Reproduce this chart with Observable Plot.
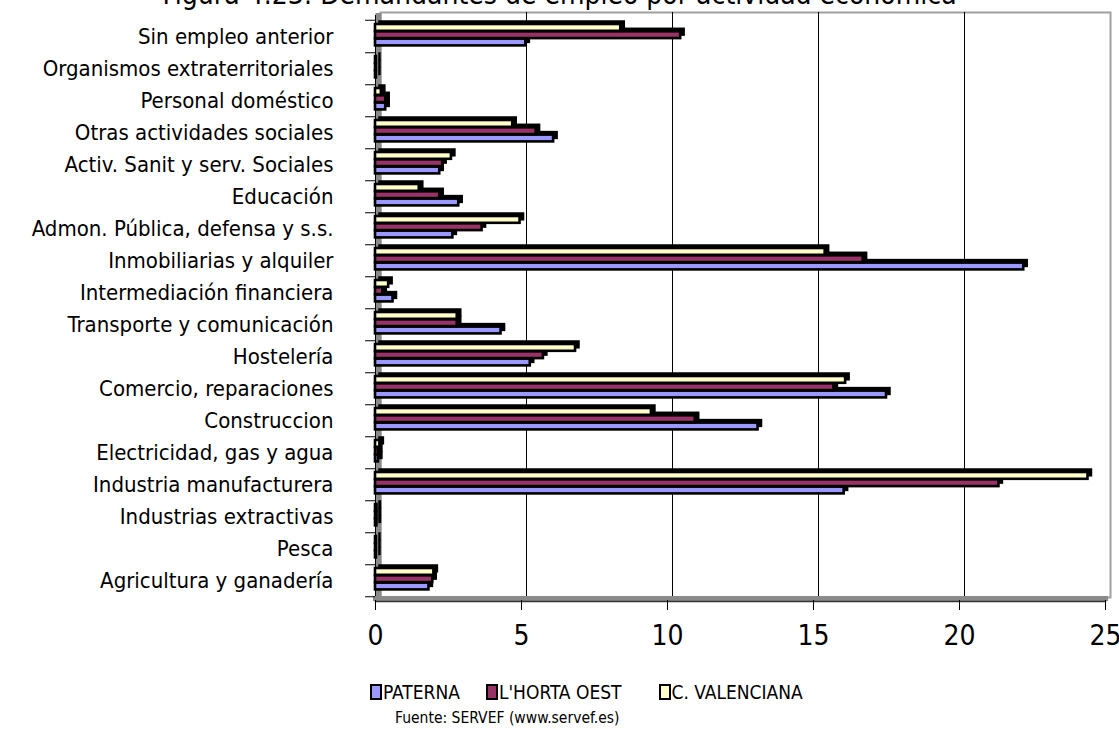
<!DOCTYPE html>
<html>
<head>
<meta charset="utf-8">
<script src="https://cdn.jsdelivr.net/npm/d3@7"></script>
<script src="https://cdn.jsdelivr.net/npm/@observablehq/plot@0.6"></script>
<style>
  html, body { margin: 0; padding: 0; background: #fff; overflow: hidden; }
  body { font-family: "Liberation Sans Narrow", "DejaVu Sans Condensed", "Roboto", sans-serif; color: #000; width: 1119px; height: 729px; }
  #title { height: 10px; overflow: visible; position: relative; }
  #title div { position: absolute; left: 0; right: 0; top: -20px; font-size: 28px; line-height: 30px; text-align: center; white-space: nowrap; }
  #chart svg { display: block; }
  #legend { display: flex; align-items: center; padding-left: 370px; margin-top: 18px; font-size: 19px; line-height: 24px; }
  #legend .item { display: flex; align-items: center; }
  #legend .sw { width: 8px; height: 12px; border: 2px solid #000; margin-right: 1px; }
  #caption { padding-left: 395px; font-size: 15.5px; line-height: 20px; margin-top: 4px; }
</style>
</head>
<body>
<div id="title"><div>Figura 4.23: Demandantes de empleo por actividad económica</div></div>
<div id="chart"></div>
<div id="legend"></div>
<div id="caption">Fuente: SERVEF (www.servef.es)</div>
<script>
// ---- data (top to bottom as displayed) ----
const categories = [
  "Sin empleo anterior",
  "Organismos extraterritoriales",
  "Personal doméstico",
  "Otras actividades sociales",
  "Activ. Sanit y serv. Sociales",
  "Educación",
  "Admon. Pública, defensa y s.s.",
  "Inmobiliarias y alquiler",
  "Intermediación financiera",
  "Transporte y comunicación",
  "Hostelería",
  "Comercio, reparaciones",
  "Construccion",
  "Electricidad, gas y agua",
  "Industria manufacturera",
  "Industrias extractivas",
  "Pesca",
  "Agricultura y ganadería"
];
const seriesNames = ["PATERNA", "L'HORTA OEST", "C. VALENCIANA"];
const seriesColors = ["#9999ff", "#993366", "#ffffcc"];
const paterna     = [5.15, 0.03, 0.35, 6.1, 2.2, 2.85, 2.65, 22.2, 0.6, 4.3, 5.3, 17.5, 13.1, 0.1, 16.05, 0.05, 0.03, 1.83];
const hortaOest   = [10.45, 0.03, 0.35, 5.5, 2.3, 2.2, 3.65, 16.7, 0.25, 2.8, 5.75, 15.7, 10.95, 0.1, 21.35, 0.05, 0.03, 1.96];
const cValenciana = [8.4, 0.03, 0.2, 4.7, 2.6, 1.5, 4.95, 15.4, 0.45, 2.8, 6.85, 16.1, 9.45, 0.15, 24.4, 0.05, 0.03, 2.0];
const xTicks = [0, 5, 10, 15, 20, 25];

const seriesValues = [paterna, hortaOest, cValenciana];
// slot within each category band: C. VALENCIANA on top, then L'HORTA OEST, then PATERNA
const slotOf = [2, 1, 0];

const W = 1119, H = 652, mt = 5, mb = 62, ml = 375, mr = 14;
const bw = (H - mt - mb) / categories.length;
const top0 = 4, pitch = 7.3;
const ins = s => ({insetTop: top0 + pitch * s, insetBottom: bw - (top0 + pitch * (s + 1))});

const tables = seriesValues.map((vals, i) => categories.map((c, j) => ({cat: c, value: vals[j], series: seriesNames[i]})));

const shadowMarks = tables.map((t, i) => Plot.barX(t, {
  y: "cat", x: "value", fill: "#000", stroke: "#000", strokeWidth: 1.5, dx: 4, dy: -3, ...ins(slotOf[i])
}));
const fillMarks = tables.map((t, i) => Plot.barX(t, {
  y: "cat", x: "value", fill: seriesColors[i], stroke: "#000", strokeWidth: 2.6, ...ins(slotOf[i])
}));

const chart = Plot.plot({
  width: W, height: H,
  marginTop: mt, marginBottom: mb, marginLeft: ml, marginRight: mr,
  style: {fontFamily: "'Liberation Sans Narrow', 'DejaVu Sans Condensed', sans-serif", color: "#000", background: "#fff"},
  x: {domain: [0, 25], axis: null, label: null},
  y: {domain: categories, padding: 0, axis: null, label: null},
  marks: [
    // back wall border
    Plot.frame({stroke: "#a0a0a0", strokeWidth: 2, dx: 5, dy: -3}),
    // gridlines on back wall
    Plot.ruleX(xTicks.slice(1, -1), {stroke: "#000", strokeWidth: 1, dx: 5, dy: -3}),
    // left wall
    Plot.ruleX([0], {stroke: "#8a8a8a", strokeWidth: 6, dx: 3, dy: -2}),
    Plot.ruleX([0], {stroke: "#000", strokeWidth: 1}),
    // floor
    Plot.frame({anchor: "bottom", stroke: "#8a8a8a", strokeWidth: 5, dy: -2}),
    Plot.frame({anchor: "bottom", stroke: "#333", strokeWidth: 1.5, dy: 1}),
    // category boundary ticks
    Plot.ruleY(categories, {x1: -0.34, x2: 0, dy: bw / 2, stroke: "#000"}),
    Plot.ruleY(categories.slice(0, 1), {x1: -0.34, x2: 0, dy: -bw / 2, stroke: "#000"}),
    ...shadowMarks,
    ...fillMarks,
    Plot.axisY({tickSize: 0, tickPadding: 42, fontSize: 22, label: null}),
    Plot.axisX(xTicks, {tickSize: 10, tickPadding: 15, fontSize: 28, label: null})
  ]
});
document.getElementById("chart").appendChild(chart);

const legend = document.getElementById("legend");
const gaps = [26, 37, 0];
seriesNames.forEach((name, i) => {
  const item = document.createElement("div");
  item.className = "item";
  item.style.marginRight = gaps[i] + "px";
  const sw = document.createElement("div");
  sw.className = "sw";
  sw.style.background = seriesColors[i];
  const lab = document.createElement("span");
  lab.textContent = name;
  item.appendChild(sw);
  item.appendChild(lab);
  legend.appendChild(item);
});
</script>
</body>
</html>
